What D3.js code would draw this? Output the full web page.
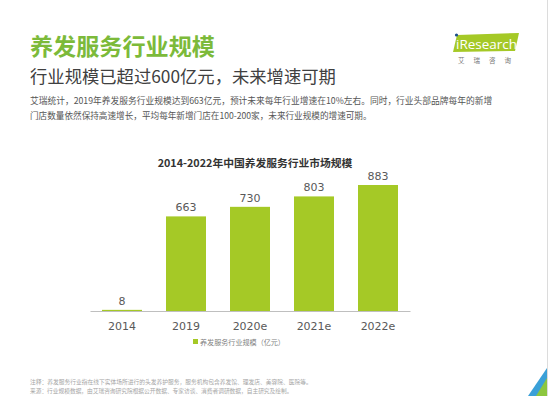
<!DOCTYPE html>
<html>
<head>
<meta charset="utf-8">
<script src="https://cdn.jsdelivr.net/npm/d3@7"></script>
<style>
  body { margin: 0; background: #fff; }
  svg { display: block; font-family: "Noto Sans CJK SC", "Noto Sans", sans-serif; }
</style>
</head>
<body>
<div id="chart"></div>
<script>
// data
const years = ["2014", "2019", "2020e", "2021e", "2022e"];
const marketSize = [8, 663, 730, 803, 883];
const seriesName = "养发服务行业规模（亿元）";

const W = 550, H = 396;

const svg = d3.select("#chart")
    .append("svg")
    .attr("width", W)
    .attr("height", H);

// shrink/grow a text's font so it spans the width seen in the original
function fitWidth(sel, w) {
    sel.each(function () {
        const t = d3.select(this);
        const len = this.getComputedTextLength();
        if (len > 0) t.attr("font-size", +t.attr("font-size") * w / len);
    });
}

// right border line + corner decoration
svg.append("line")
    .attr("x1", 547.5).attr("x2", 547.5)
    .attr("y1", 0).attr("y2", H)
    .attr("stroke", "#dcdcdc").attr("stroke-width", 1);
svg.append("path")
    .attr("d", `M547,368 L547,396 L528,396 Z`)
    .attr("fill", "#3aa0d8");
svg.append("path")
    .attr("d", `M547,378 L547,396 L536,396 Z`)
    .attr("fill", "#8cc63f");

// header
svg.append("text")
    .attr("x", 30).attr("y", 55)
    .attr("font-size", 23).attr("font-weight", "bold")
    .attr("fill", "#7cba3a")
    .text("养发服务行业规模")
    .call(fitWidth, 185);

svg.append("text")
    .attr("x", 30).attr("y", 83)
    .attr("font-size", 17)
    .attr("fill", "#404040")
    .text("行业规模已超过600亿元，未来增速可期")
    .call(fitWidth, 306);

const desc = [
    "艾瑞统计，2019年养发服务行业规模达到663亿元，预计未来每年行业增速在10%左右。同时，行业头部品牌每年的新增",
    "门店数量依然保持高速增长，平均每年新增门店在100-200家，未来行业规模的增速可期。"
];
const descW = [463, 342];
svg.append("g").selectAll("text")
    .data(desc)
    .join("text")
    .attr("x", 30)
    .attr("y", (d, i) => 104 + i * 15)
    .attr("font-size", 9)
    .attr("fill", "#555")
    .text(d => d)
    .each(function (d, i) { d3.select(this).call(fitWidth, descW[i]); });

// iResearch logo
const logo = svg.append("g");
logo.append("path")
    .attr("d", "M457,35 L519,33 L515,51 L453,52 Z")
    .attr("fill", "#a5c926");
logo.append("text")
    .attr("x", 456).attr("y", 49)
    .attr("font-family", "Open Sans, sans-serif")
    .attr("font-size", 13.5)
    .attr("fill", "#fff")
    .text("iResearch");
logo.append("circle")
    .attr("cx", 456.5).attr("cy", 35).attr("r", 1.6)
    .attr("fill", "#1a4f8b");
logo.append("text")
    .attr("x", 458).attr("y", 63)
    .attr("font-size", 6.5)
    .attr("fill", "#777")
    .attr("letter-spacing", 9)
    .text("艾瑞咨询");

// chart
const x = d3.scaleBand()
    .domain(years)
    .range([90, 410])
    .paddingInner(0.375)
    .paddingOuter(0.1875);

const y = d3.scaleLinear()
    .domain([0, 883])
    .range([311, 185]);

svg.append("text")
    .attr("x", 255).attr("y", 167)
    .attr("text-anchor", "middle")
    .attr("font-size", 11).attr("font-weight", "bold")
    .attr("fill", "#333")
    .text("2014-2022年中国养发服务行业市场规模")
    .call(fitWidth, 195);

svg.append("g")
    .selectAll("rect")
    .data(marketSize)
    .join("rect")
    .attr("x", (d, i) => x(years[i]))
    .attr("y", d => y(d))
    .attr("width", x.bandwidth())
    .attr("height", d => y(0) - y(d))
    .attr("fill", "#a5c926");

svg.append("g")
    .selectAll("text")
    .data(marketSize)
    .join("text")
    .attr("x", (d, i) => x(years[i]) + x.bandwidth() / 2)
    .attr("y", d => y(d) - 5)
    .attr("text-anchor", "middle")
    .attr("font-family", "Verdana, DejaVu Sans, sans-serif")
    .attr("font-size", 11)
    .attr("fill", "#595959")
    .text(d => d);

const xAxis = svg.append("g")
    .attr("transform", `translate(0, ${y(0)})`)
    .call(d3.axisBottom(x).tickSize(0).tickPadding(11));
xAxis.select(".domain").attr("stroke", "#bfbfbf");
xAxis.selectAll("text")
    .attr("font-family", "Verdana, DejaVu Sans, sans-serif")
    .attr("font-size", 11)
    .attr("fill", "#595959");

// legend
const legend = svg.append("g").attr("transform", "translate(193, 339)");
legend.append("rect")
    .attr("width", 5).attr("height", 5)
    .attr("fill", "#a5c926");
legend.append("text")
    .attr("x", 7).attr("y", 5.5)
    .attr("font-size", 8)
    .attr("fill", "#7f7f7f")
    .text(seriesName)
    .call(fitWidth, 85);

// footnotes
const notes = [
    "注释：养发服务行业指在线下实体场所进行的头发养护服务，服务机构包含养发馆、理发店、美容院、医院等。",
    "来源：行业规模数据，由艾瑞咨询研究院根据公开数据、专家访谈、消费者调研数据，自主研究及绘制。"
];
const notesW = [282, 263];
svg.append("g").selectAll("text")
    .data(notes)
    .join("text")
    .attr("x", 30)
    .attr("y", (d, i) => 384 + i * 9)
    .attr("font-size", 6)
    .attr("fill", "#a6a6a6")
    .text(d => d)
    .each(function (d, i) { d3.select(this).call(fitWidth, notesW[i]); });
</script>
</body>
</html>
